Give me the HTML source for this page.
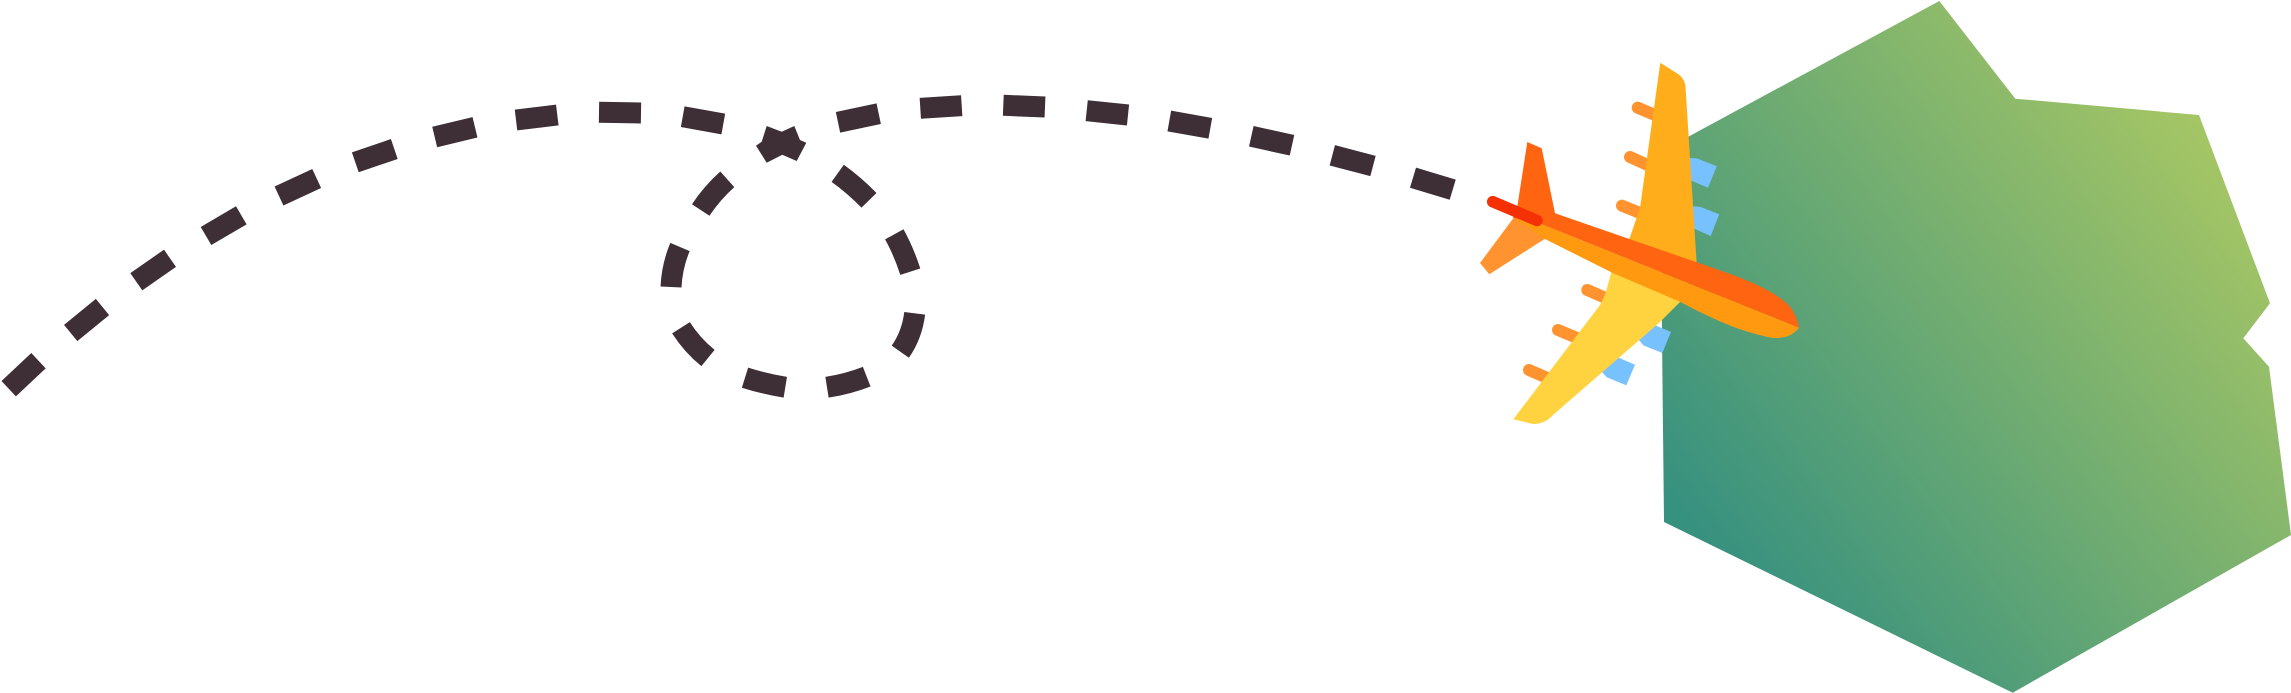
<!DOCTYPE html>
<html>
<head>
<meta charset="utf-8">
<style>
html,body{margin:0;padding:0;background:#fff;}
svg{display:block;}
</style>
</head>
<body>
<svg width="2291" height="693" viewBox="0 0 2291 693" xmlns="http://www.w3.org/2000/svg">
<defs>
<linearGradient id="g" gradientUnits="userSpaceOnUse" x1="1690" y1="520" x2="2220" y2="120">
<stop offset="0" stop-color="#37917f"/>
<stop offset="1" stop-color="#a8c764"/>
</linearGradient>
</defs>
<polygon fill="url(#g)" points="1660,152 1939.3,1 2015.3,98.7 2199,115 2270,303.3 2243.3,338.3 2269,366.7 2291,535 2012.7,692.7 1664,522"/>

<g fill="none" stroke="#3d2f35" stroke-width="21">
<path d="M8.7 388.7L38.5 360.7"/>
<path d="M70.7 333L102.5 307"/>
<path d="M136.3 281.7L170 258.3"/>
<path d="M206 236L241.3 215.3"/>
<path d="M279 196L316.7 178.5"/>
<path d="M355.3 162.3L394.3 149"/>
<path d="M434.7 137L475 127.3"/>
<path d="M516 120L557.3 115"/>
<path d="M599 112.3L641 113"/>
<path d="M682.7 116.7L723.3 124"/>
<path d="M838 122.3L878.7 113.7"/>
<path d="M920.3 108.3L961.7 105.7"/>
<path d="M1003.3 105.3L1045 107"/>
<path d="M1086.7 110.7L1128 115"/>
<path d="M1169.3 121L1210.3 128.3"/>
<path d="M1251.3 136.3L1292 145.3"/>
<path d="M1332.3 155.3L1373 166"/>
<path d="M1413 177.7L1452.7 189.7"/>
<path d="M727.3 179.3Q712 193 700.7 210"/>
<path d="M837.7 173.3Q854 185 869 200.3"/>
<path d="M894.3 234.3Q904 252 910.3 271.7"/>
<path d="M680 247Q672 266 671 287"/>
<path d="M681 327.7Q692 345 708 358"/>
<path d="M914.7 313.3Q912 335 900.3 351.7"/>
<path d="M745 377.7Q765 384 785.3 387.3"/>
<path d="M827 387.3Q848 384 866.7 376.7"/>
</g>
<polygon fill="#3d2f35" points="766.7,126 781.7,131.7 794.3,126 800,140 806.3,142.7 796.7,161 782.3,154.7 766.7,162.7 756,145.7 761.7,141.7"/>

<g fill="#78c1ff">
<polygon points="1685,157.7 1696.7,158.3 1716.7,166.3 1708,187.7 1685,178"/>
<polygon points="1688,206 1700,206.7 1719.3,214.3 1710.7,236 1688,226"/>
<polygon points="1645,321 1671,332 1662.3,353 1643.3,345.3 1638.3,339.3"/>
<polygon points="1610,354 1635,364.7 1626.3,385.3 1606.7,377.3 1601.7,371.7"/>
</g>
<g fill="none" stroke="#ff9330" stroke-width="12" stroke-linecap="round">
<path d="M1637.7 107.7L1662 118"/>
<path d="M1630 157L1650 166"/>
<path d="M1622 205.7L1645 215"/>
<path d="M1587.3 290L1608 299"/>
<path d="M1558 330L1582 340"/>
<path d="M1529 370L1552 380"/>
</g>

<path fill="#ffad1a" d="M1660.3 62.7L1678 74Q1685 79 1685.5 87L1696.7 264L1629 240L1640 208Z"/>
<path fill="#ffd340" d="M1612 270L1682 300L1660 322L1553 415Q1545 424 1533 424L1513.3 419.3L1600 305L1605 295Z"/>

<polygon fill="#ff6410" points="1527.3,142 1541.7,148.3 1555,213.3 1530,222 1513,218 1517.3,206.7"/>
<polygon fill="#ff9330" points="1513.3,218.3 1480,263 1489.3,274.3 1545,238.7 1530,220"/>

<path fill="#ff6410" d="M1528 203L1555 213.3L1696.7 262.3L1733 275Q1752 282 1767 290Q1782 298 1790 306.7Q1797 316 1799 327.7L1541 224Z"/>
<path fill="#ff9a10" d="M1513 218L1541 224L1799 327.7Q1792 336 1783 337.3Q1775 339 1766.7 336.7Q1750 333 1733 326.7Q1706 316 1680 301.7L1613.3 273.3L1545 239Z"/>

<path fill="none" stroke="#f53005" stroke-width="11.5" stroke-linecap="round" d="M1492.7 201.7L1537 220.5"/>
</svg>
</body>
</html>
